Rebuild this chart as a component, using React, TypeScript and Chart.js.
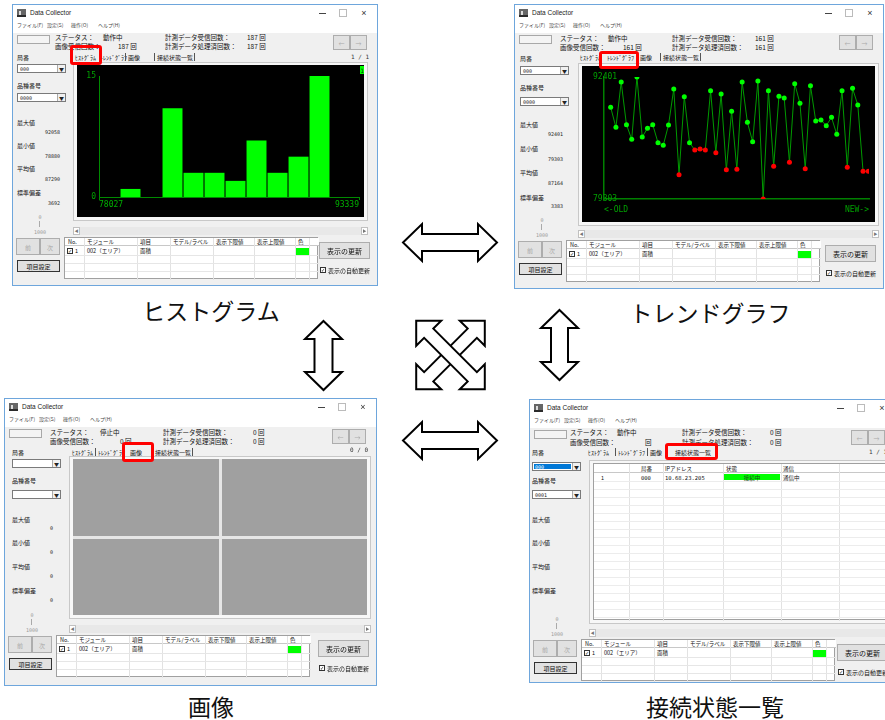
import React, { useEffect, useRef } from 'react';
import { Chart, registerables } from 'chart.js';
Chart.register(...registerables);

// ---------- data ----------
const HIST_COUNTS = [0, 1, 0, 11, 3, 3, 2, 7, 3, 5, 15];
const HIST_X_LABELS = ['78027', '93339'];
const HIST_Y_TICKS = [0, 15];
const HIST_SPAN = 12.38;

const TREND_VALUES = [
  89145, 86998, 91865, 87284, 85709, 92401, 85960, 86890, 87284, 85352,
  85065, 87248, 91114, 81916, 90291, 85352, 84564, 84672, 84564, 90935,
  84278, 90577, 82453, 88716, 82488, 91865, 87535, 85459, 91973, 79303,
  90935, 82810, 90326, 90147, 83240, 91686, 89575, 82560, 91472, 87678,
  87785, 87177, 88072, 86246, 90935, 82703, 91185, 89396, 82274, 82274,
];
const TREND_Y_TICKS = [79303, 92401];
const TREND_X_LABELS = ['<-OLD', 'NEW->'];
const TREND_LIMIT = 85000;

const TAB_LABELS = ['ﾋｽﾄｸﾞﾗﾑ', 'ﾄﾚﾝﾄﾞｸﾞﾗﾌ', '画像', '接続状態一覧'];
const MENU_LABELS = ['ファイル(F)', '設定(S)', '操作(O)', 'ヘルプ(H)'];
const MENU_X = [4, 34, 58, 85];
const STAT_LABELS = ['最大値', '最小値', '平均値', '標準偏差'];
const ITEM_HEADERS = ['No.', 'モジュール', '項目', 'モデル/ラベル', '表示下限値', '表示上限値', '色'];
const ITEM_COLS = [0, 19, 72, 105, 148, 189, 230, 244, 254];
const ITEM_ROW = ['1', '002（エリア）', '面積'];
const CONN_HEADERS = ['', '局番', 'IPアドレス', '状態', '通信'];
const CONN_COLS = [0, 35, 69, 129, 187, 245, 300];
const CONN_TEXT_X = [7, 47, 71, 132, 189];
const CONN_ROW = ['1', '000', '10.68.23.205', '接続中', '通信中'];
const CAPTIONS = ['ヒストグラム', 'トレンドグラフ', '画像', '接続状態一覧'];

// ---------- fonts ----------
const JP = '"Noto Sans CJK JP", "Noto Sans", sans-serif';
const LAT = '"Liberation Sans", Arial, sans-serif';
const MONO = '"DejaVu Sans Mono", monospace';

function Txt(p: any) {
  const { x, y, s = 6, c = '#111', a = 'l', f = JP, children, style } = p;
  const tx = a === 'l' ? '0' : a === 'c' ? '-50%' : '-100%';
  return (
    <div style={{ position: 'absolute', left: x, top: y, transform: `translate(${tx},-50%)`, fontSize: s, lineHeight: `${Math.round(s + 1)}px`, color: c, fontFamily: f, whiteSpace: 'nowrap', ...style }}>
      {children}
    </div>
  );
}

function Box(p: any) {
  const { x, y, w, h, style, children } = p;
  return <div style={{ position: 'absolute', left: x, top: y, width: w, height: h, boxSizing: 'border-box', ...style }}>{children}</div>;
}

function Btn(p: any) {
  const { x, y, w, h, label, s = 6, c = '#111', dark } = p;
  return (
    <Box x={x} y={y} w={w} h={h} style={{ border: dark ? '1px solid #333' : '1px solid #adadad', background: '#e1e1e1' }}>
      <Txt x={w / 2 - 1} y={h / 2 - 1} s={s} c={c} a="c">{label}</Txt>
    </Box>
  );
}

function Combo(p: any) {
  const { x, y, w, text, sel } = p;
  return (
    <Box x={x} y={y} w={w} h={9} style={{ background: '#fff', border: '1px solid #7a7a7a' }}>
      {sel ? <Box x={1} y={1} w={w - 12} h={5} style={{ background: '#0078d7' }} /> : null}
      <Txt x={2} y={3.5} s={5} c={sel ? '#fff' : '#222'} f={MONO}>{text}</Txt>
      <Box x={w - 10} y={0} w={8} h={7} style={{ background: '#f0f0f0', borderLeft: '1px solid #aaa' }}>
        <Txt x={3.5} y={3.5} s={5} a="c" c="#222">▼</Txt>
      </Box>
    </Box>
  );
}

function CheckBox(p: any) {
  const { x, y } = p;
  return (
    <Box x={x} y={y} w={6} h={6} style={{ border: '1px solid #333', background: '#fff' }}>
      <Txt x={2} y={2} s={5} a="c" c="#111" f={LAT}>✓</Txt>
    </Box>
  );
}

// ---------- charts ----------
function HistChart(p: any) {
  const { w, h } = p;
  const ref = useRef<HTMLCanvasElement>(null);
  useEffect(() => {
    const AX = '#008a00';
    const chart = new Chart(ref.current as HTMLCanvasElement, {
      type: 'bar',
      data: {
        datasets: [{
          data: HIST_COUNTS.map((c, i) => ({ x: i + 0.5, y: c })),
          backgroundColor: '#00ff00',
          borderWidth: 0,
          barPercentage: 0.95,
          categoryPercentage: 1,
        }],
      },
      options: {
        animation: false,
        responsive: false,
        devicePixelRatio: 1,
        layout: { padding: { top: 11, right: 5, left: 0, bottom: 0 } },
        plugins: { legend: { display: false }, tooltip: { enabled: false } },
        scales: {
          x: {
            type: 'linear', min: 0, max: HIST_SPAN, offset: false,
            grid: { display: true, drawOnChartArea: false, drawTicks: true, tickLength: 3, color: AX, offset: false },
            border: { display: true, color: AX, width: 1 },
            afterBuildTicks: (s: any) => { s.ticks = [{ value: 0 }, { value: HIST_SPAN }]; },
            afterFit: (s: any) => { s.height = 20; },
            ticks: { align: 'inner', padding: 0, maxRotation: 0, autoSkip: false, color: '#00b000', font: { family: MONO, size: 8 }, callback: (_v: any, i: number) => HIST_X_LABELS[i] },
          },
          y: {
            min: 0, max: 15,
            grid: { display: false, drawTicks: false },
            border: { display: true, color: AX, width: 1 },
            afterBuildTicks: (s: any) => { s.ticks = HIST_Y_TICKS.map((v) => ({ value: v })); },
            afterFit: (s: any) => { s.width = 22; },
            ticks: { padding: 3, color: '#00a000', font: { family: MONO, size: 8 }, callback: (v: any) => String(v) },
          },
        },
      } as any,
    });
    return () => chart.destroy();
  }, []);
  return <canvas ref={ref} width={w} height={h} style={{ display: 'block', width: w, height: h, background: '#000' }} />;
}

function TrendChart(p: any) {
  const { w, h } = p;
  const ref = useRef<HTMLCanvasElement>(null);
  useEffect(() => {
    const AX = '#008000';
    const colors = TREND_VALUES.map((v) => (v < TREND_LIMIT ? '#ff0000' : '#00ff00'));
    const chart = new Chart(ref.current as HTMLCanvasElement, {
      type: 'line',
      data: {
        datasets: [{
          data: TREND_VALUES.map((v, i) => ({ x: i, y: v })),
          borderColor: '#009a00',
          borderWidth: 1,
          tension: 0,
          pointRadius: 2.5,
          pointBorderWidth: 0,
          pointBackgroundColor: colors,
          pointBorderColor: colors,
        }],
      },
      options: {
        animation: false,
        responsive: false,
        devicePixelRatio: 1,
        layout: { padding: { top: 11, right: 6, left: 0, bottom: 0 } },
        plugins: { legend: { display: false }, tooltip: { enabled: false } },
        scales: {
          x: {
            type: 'linear', min: -1.27, max: 49.13,
            grid: { display: false, drawTicks: false },
            border: { display: true, color: AX, width: 1.5 },
            afterBuildTicks: (s: any) => { s.ticks = [{ value: -1.27 }, { value: 49.13 }]; },
            afterFit: (s: any) => { s.height = 23; },
            ticks: { align: 'inner', padding: 6, maxRotation: 0, autoSkip: false, color: '#00a000', font: { family: MONO, size: 8 }, callback: (_v: any, i: number) => TREND_X_LABELS[i] },
          },
          y: {
            min: TREND_Y_TICKS[0], max: TREND_Y_TICKS[1],
            grid: { display: false, drawTicks: false },
            border: { display: true, color: AX, width: 1.5 },
            afterBuildTicks: (s: any) => { s.ticks = TREND_Y_TICKS.map((v) => ({ value: v })); },
            afterFit: (s: any) => { s.width = 22; },
            ticks: { mirror: true, padding: -11, color: '#00a000', font: { family: MONO, size: 8 }, callback: (v: any) => String(v) },
          },
        },
      } as any,
    });
    return () => chart.destroy();
  }, []);
  return <canvas ref={ref} width={w} height={h} style={{ display: 'block', width: w, height: h, background: '#000' }} />;
}

// ---------- window ----------
function ItemTable(p: any) {
  const { x, y } = p;
  const W = ITEM_COLS[ITEM_COLS.length - 1];
  return (
    <Box x={x} y={y} w={W} h={42} style={{ background: '#fff', border: '1px solid #a0a0a0' }}>
      <Box x={0} y={0} w={W} h={8} style={{ borderBottom: '1px solid #c8c8c8', background: '#fff' }} />
      {ITEM_COLS.slice(1, -1).map((cx, i) => <Box key={'v' + i} x={cx} y={0} w={1} h={42} style={{ background: '#e2e2e2' }} />)}
      {[17, 25, 33].map((ry, i) => <Box key={'h' + i} x={0} y={ry} w={W} h={1} style={{ background: '#e6e6e6' }} />)}
      {ITEM_HEADERS.map((t, i) => <Txt key={'t' + i} x={ITEM_COLS[i] + 3} y={4} s={5.5}>{t}</Txt>)}
      <CheckBox x={2} y={10} />
      <Txt x={10} y={13} s={5.5}>{ITEM_ROW[0]}</Txt>
      <Txt x={ITEM_COLS[1] + 3} y={13} s={5.5}>{ITEM_ROW[1]}</Txt>
      <Txt x={ITEM_COLS[2] + 3} y={13} s={5.5}>{ITEM_ROW[2]}</Txt>
      <Box x={ITEM_COLS[6] + 1} y={10} w={13} h={7} style={{ background: '#00ff00' }} />
    </Box>
  );
}

function Win(p: any) {
  const { c, children } = p;
  const { w, h } = c;
  const [cx, cy, cw, ch] = c.content;
  const b = c.btop;
  const [sx0, sx1, sx2, sx3, sx4] = c.sx;
  const [sy0, sy1] = c.sy;
  return (
    <div style={{ position: 'absolute', left: c.x, top: c.y, width: w, height: h, background: '#f0f0f0', outline: '1px solid #6ea6dc', overflow: 'hidden' }}>
      <Box x={0} y={0} w={w} h={28} style={{ background: '#fff' }} />
      {/* icon */}
      <Box x={4} y={4} w={9} h={8} style={{ background: '#666', borderBottom: '2px solid #2b2b2b' }} />
      <Box x={6} y={6} w={2} h={4} style={{ background: '#ddd' }} />
      <Txt x={17} y={8} s={6.5} f={LAT} c="#222">Data Collector</Txt>
      <Box x={w - 58} y={8} w={7} h={1} style={{ background: '#444' }} />
      <Box x={w - 38} y={4} w={8} h={8} style={{ border: '1px solid #bbb' }} />
      <Txt x={w - 13} y={8} s={9} c="#333" a="c" f={LAT}>×</Txt>
      {MENU_LABELS.map((m, i) => <Txt key={i} x={MENU_X[i]} y={20} s={5} c="#444">{m}</Txt>)}
      {/* status */}
      <Box x={4} y={30} w={33} h={9} style={{ border: '1px solid #a8a8a8', background: '#f4f4f4' }} />
      <Txt x={sx0} y={sy0} s={6.5}>ステータス：</Txt>
      <Txt x={sx1} y={sy0} s={6.5}>{c.state}</Txt>
      <Txt x={sx2} y={sy0} s={6.5}>計測データ受信回数：</Txt>
      <Txt x={sx3} y={sy0} s={6.5}>{c.recv}</Txt>
      <Txt x={sx0} y={sy1} s={6.5}>画像受信回数：</Txt>
      <Txt x={sx4} y={sy1} s={6.5}>{c.img}</Txt>
      <Txt x={sx2} y={sy1} s={6.5}>計測データ処理済回数：</Txt>
      <Txt x={sx3} y={sy1} s={6.5}>{c.proc}</Txt>
      <Btn x={w - 44} y={30} w={17} h={15} label="←" c="#aaa" s={6} />
      <Btn x={w - 27} y={30} w={17} h={15} label="→" c="#aaa" s={6} />
      {/* tabs */}
      <Txt x={c.lx} y={c.kyokuY} s={6}>局番</Txt>
      {TAB_LABELS.map((t, i) => <Txt key={'tab' + i} x={c.tabX[i]} y={c.tabY} s={6}>{t}</Txt>)}
      {[1, 2, 3].map((i) => (i - 1 === c.active || i === c.active ? null : <Box key={'sep' + i} x={c.tabX[i] - 3} y={c.tabY - 4} w={1} h={8} style={{ background: '#555' }} />))}
      {c.active !== 3 ? <Box x={c.tabX[3] + 37} y={c.tabY - 4} w={1} h={8} style={{ background: '#555' }} /> : null}
      {c.page ? <Txt x={w - 8} y={c.pageY} s={6} a="r" f={MONO} c="#333">{c.page}</Txt> : null}
      {/* left panel */}
      <Combo x={c.lx} y={c.c1Top} w={49} text={c.c1} sel={c.c1Sel} />
      <Txt x={c.lx} y={c.hinY} s={6}>品種番号</Txt>
      <Combo x={c.lx} y={c.c2Top} w={49} text={c.c2} />
      {STAT_LABELS.map((t, i) => <Txt key={'st' + i} x={c.lx} y={c.statY[i]} s={6}>{t}</Txt>)}
      {c.vals ? c.vals.map((v: string, i: number) => <Txt key={'sv' + i} x={c.valR} y={c.valY[i]} s={5} a="r" f={MONO} c="#222">{v}</Txt>) : null}
      {/* slider */}
      <Txt x={27} y={b - 21} s={5} a="c" f={MONO} c="#999">0</Txt>
      <Box x={26} y={b - 17} w={1} h={6} style={{ background: '#aaa' }} />
      <Txt x={27} y={b - 6} s={5} a="c" f={MONO} c="#999">1000</Txt>
      {/* content */}
      <Box x={cx - 4} y={cy - 3} w={cw + 8} h={ch + 7} style={{ border: '1px solid #c8c8c8', background: '#f7f7f7' }} />
      <Box x={cx} y={cy} w={cw} h={ch}>{children}</Box>
      {/* scrollbar */}
      <Box x={cx - 4} y={b - 11} w={cw + 8} h={8} style={{ background: '#e8e8e8' }}>
        <Box x={0} y={0} w={7} h={8} style={{ background: '#fff', border: '1px solid #c0c0c0' }}><Txt x={2.5} y={3} s={4} a="c" c="#777">◀</Txt></Box>
        <Box x={cw + 1} y={0} w={7} h={8} style={{ background: '#fff', border: '1px solid #c0c0c0' }}><Txt x={2.5} y={3} s={4} a="c" c="#777">▶</Txt></Box>
      </Box>
      {/* bottom */}
      <Btn x={3} y={b} w={24} h={17} label="前" c="#aaa" />
      <Btn x={27} y={b} w={20} h={17} label="次" c="#aaa" />
      <Btn x={4} y={b + 22} w={43} h={12} label="項目設定" dark />
      <ItemTable x={51} y={b - 1} />
      <Btn x={w - 58} y={b + 4} w={51} h={17} label="表示の更新" s={7} />
      <CheckBox x={w - 57} y={b + 29} />
      <Txt x={w - 49} y={b + 32} s={6}>表示の自動更新</Txt>
      {/* red highlight */}
      <Box x={c.red[0]} y={c.red[1]} w={c.red[2]} h={c.red[3]} style={{ border: '3px solid #ff0000', borderRadius: 3 }} />
    </div>
  );
}

function ImageGrid(p: any) {
  const { w, h } = p;
  const hw = (w - 3) / 2;
  const hh = (h - 3) / 2;
  return (
    <Box x={0} y={0} w={w} h={h} style={{ background: '#e6e6e6' }}>
      <Box x={0} y={0} w={hw} h={hh} style={{ background: '#a0a0a0' }} />
      <Box x={hw + 3} y={0} w={hw} h={hh} style={{ background: '#a0a0a0' }} />
      <Box x={0} y={hh + 3} w={hw} h={hh} style={{ background: '#a0a0a0' }} />
      <Box x={hw + 3} y={hh + 3} w={hw} h={hh} style={{ background: '#a0a0a0' }} />
    </Box>
  );
}

function ConnTable(p: any) {
  const { w, h } = p;
  const rows = [];
  for (let ry = 17; ry < h; ry += 8) rows.push(ry);
  return (
    <Box x={0} y={0} w={w} h={h} style={{ background: '#fff', border: '1px solid #a0a0a0' }}>
      <Box x={0} y={0} w={w} h={9} style={{ borderBottom: '1px solid #c8c8c8' }} />
      {CONN_COLS.slice(1, -1).map((cx, i) => <Box key={'v' + i} x={cx} y={0} w={1} h={h} style={{ background: '#e2e2e2' }} />)}
      {rows.map((ry, i) => <Box key={'h' + i} x={0} y={ry} w={w} h={1} style={{ background: '#ececec' }} />)}
      {CONN_HEADERS.map((t, i) => <Txt key={'t' + i} x={CONN_TEXT_X[i]} y={5} s={5.5}>{t}</Txt>)}
      <Box x={130} y={10} w={56} h={6} style={{ background: '#00ff00' }} />
      <Txt x={CONN_TEXT_X[0]} y={13.5} s={5.5}>{CONN_ROW[0]}</Txt>
      <Txt x={CONN_TEXT_X[1]} y={13.5} s={5.5} f={MONO}>{CONN_ROW[1]}</Txt>
      <Txt x={CONN_TEXT_X[2]} y={13.5} s={5.5} f={MONO}>{CONN_ROW[2]}</Txt>
      <Txt x={158} y={13.5} s={5.5} a="c" c="#1a4d1a">{CONN_ROW[3]}</Txt>
      <Txt x={CONN_TEXT_X[4]} y={13.5} s={5.5}>{CONN_ROW[4]}</Txt>
    </Box>
  );
}

// ---------- window configs ----------
const TL = { x: 13, y: 5, w: 364, h: 280, state: '動作中', recv: '187 回', img: '187 回', proc: '187 回', sx: [42, 90, 152, 234, 105], sy: [32, 41], tabX: [62, 87, 115, 144], tabY: 52, active: 0, red: [57, 40, 32, 20], page: '1 / 1', pageY: 51, lx: 4, valR: 47, kyokuY: 52, c1Top: 59, hinY: 80, c2Top: 88, statY: [117, 140, 163, 187], valY: [127, 151, 174, 198], vals: ['92058', '78880', '87290', '3692'], c1: '000', c2: '0000', content: [64, 60, 287, 152], btop: 233 };
const TR = { x: 515, y: 5, w: 368, h: 283, state: '動作中', recv: '161 回', img: '161 回', proc: '161 回', sx: [45, 93, 157, 240, 108], sy: [33, 42], tabX: [65, 92, 125, 148], tabY: 52, active: 1, red: [84, 46, 40, 18], page: null, pageY: 51, lx: 5, valR: 48, kyokuY: 53, c1Top: 61, hinY: 82, c2Top: 92, statY: [119, 143, 167, 192], valY: [129, 154, 178, 201], vals: ['92401', '79303', '87164', '3383'], c1: '000', c2: '0000', content: [67, 61, 293, 156], btop: 236 };
const BL = { x: 5, y: 399, w: 371, h: 286, state: '停止中', recv: '0 回', img: '0 回', proc: '0 回', sx: [45, 95, 158, 248, 115], sy: [33, 42], tabX: [67, 93, 125, 150], tabY: 53, active: 2, red: [117, 43, 32, 20], page: '0 / 0', pageY: 50, lx: 7, valR: 48, kyokuY: 53, c1Top: 60, hinY: 81, c2Top: 91, statY: [120, 143, 167, 191], valY: [129, 153, 177, 201], vals: ['0', '0', '0', '0'], c1: '', c2: '', content: [68, 60, 294, 156], btop: 237 };
const BR = { x: 530, y: 400, w: 365, h: 282, state: '動作中', recv: '0 回', img: '回', proc: '0 回', sx: [40, 87, 152, 240, 115], sy: [32, 42], tabX: [58, 88, 120, 145], tabY: 52, active: 3, red: [135, 43, 53, 17], page: '1 / 1', pageY: 51, lx: 2, valR: 0, kyokuY: 52, c1Top: 62, c1Sel: true, hinY: 80, c2Top: 90, statY: [119, 142, 166, 190], valY: [], vals: null, c1: '000', c2: '0001', content: [63, 63, 298, 157], btop: 240 };

// ---------- arrows ----------
function DblArrow(p: any) {
  const { cx, cy, L, hl, hw, sw, rot } = p;
  const a = L / 2;
  const pts = [[-a, 0], [-a + hl, -hw], [-a + hl, -sw], [a - hl, -sw], [a - hl, -hw], [a, 0], [a - hl, hw], [a - hl, sw], [-a + hl, sw], [-a + hl, hw]];
  return <polygon points={pts.map((q) => q.join(',')).join(' ')} transform={`translate(${cx} ${cy}) rotate(${rot})`} fill="#fff" stroke="#000" strokeWidth={2} strokeLinejoin="miter" />;
}

export default function App() {
  return (
    <div style={{ position: 'fixed', left: 0, top: 0, width: 885, height: 720, background: '#fff', overflow: 'hidden' }}>
      <Win c={TL}>
        <HistChart w={287} h={152} />
        <Box x={283} y={1} w={4} h={8} style={{ background: '#00ff00' }}><Txt x={2} y={4} s={6} a="c" f={MONO} c="#004000">1</Txt></Box>
      </Win>
      <Win c={TR}>
        <TrendChart w={293} h={156} />
      </Win>
      <Win c={BL}>
        <ImageGrid w={294} h={156} />
      </Win>
      <Win c={BR}>
        <ConnTable w={298} h={157} />
      </Win>
      <Txt x={211} y={310} s={23} a="c" c="#111">{CAPTIONS[0]}</Txt>
      <Txt x={710} y={312} s={23} a="c" c="#111">{CAPTIONS[1]}</Txt>
      <Txt x={211} y={706} s={23} a="c" c="#111">{CAPTIONS[2]}</Txt>
      <Txt x={715} y={706} s={23} a="c" c="#111">{CAPTIONS[3]}</Txt>
      <svg width={885} height={720} style={{ position: 'absolute', left: 0, top: 0, pointerEvents: 'none' }}>
        <DblArrow cx={450} cy={242.5} L={94} hl={19} hw={18.5} sw={8.5} rot={0} />
        <DblArrow cx={450} cy={440.5} L={94} hl={19} hw={18.5} sw={8.5} rot={0} />
        <DblArrow cx={323.5} cy={355.5} L={69} hl={18} hw={18.5} sw={9} rot={90} />
        <DblArrow cx={559.5} cy={345} L={70} hl={18} hw={18.5} sw={8.5} rot={90} />
        <DblArrow cx={450.5} cy={355} L={97} hl={17.7} hw={17.7} sw={6.5} rot={-45} />
        <DblArrow cx={450.5} cy={355} L={97} hl={17.7} hw={17.7} sw={6.5} rot={45} />
      </svg>
    </div>
  );
}
